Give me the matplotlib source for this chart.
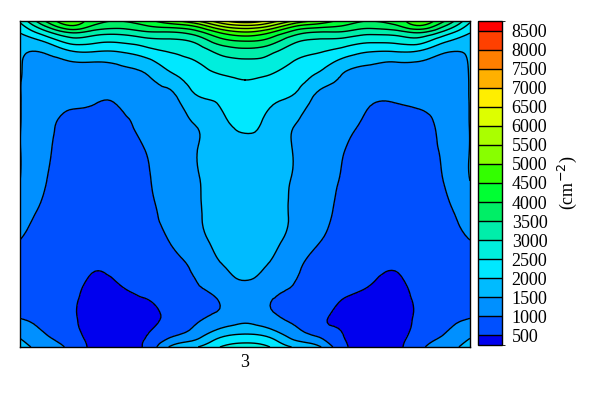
import numpy as np
import matplotlib
matplotlib.use("Agg")
import matplotlib.pyplot as plt
import matplotlib.tri as mtri
from matplotlib.colors import ListedColormap, BoundaryNorm
from matplotlib.cm import ScalarMappable

plt.rcParams['font.family'] = ['Liberation Serif', 'DejaVu Serif']

# grid positions (x across, depth from top edge down)
x_pos = [0, 25, 50, 75, 100, 125, 150, 175, 200, 225,
         250, 275, 300, 325, 350, 375, 400, 425, 450]
y_pos = [0, 5, 11, 19, 29, 41, 59, 79, 104, 129,
         159, 189, 219, 244, 269, 294, 314, 326]

# field values (cm^-2), one row per depth
density = [
    [2600, 4000, 4800, 4200, 4000, 4300, 4800, 5400, 6300, 6800, 6300, 5400, 4800, 4300, 4000, 4200, 4800, 4000, 2600],
    [2300, 3500, 4450, 3900, 3700, 3950, 4200, 4550, 5500, 5900, 5500, 4550, 4200, 3950, 3700, 3900, 4450, 3500, 2300],
    [2050, 2850, 3600, 3300, 3200, 3450, 3500, 3800, 4600, 5000, 4600, 3800, 3500, 3450, 3200, 3300, 3600, 2850, 2050],
    [1700, 2150, 2800, 2700, 2650, 2850, 2950, 3150, 3850, 4100, 3850, 3150, 2950, 2850, 2650, 2700, 2800, 2150, 1700],
    [1560, 1600, 2050, 2100, 2100, 2350, 2570, 2750, 3200, 3400, 3200, 2750, 2570, 2350, 2100, 2100, 2050, 1600, 1560],
    [1530, 1350, 1480, 1500, 1580, 1800, 2250, 2470, 2800, 2900, 2800, 2470, 2250, 1800, 1580, 1500, 1480, 1350, 1530],
    [1520, 1250, 1250, 1250, 1300, 1420, 1760, 2200, 2380, 2500, 2380, 2200, 1760, 1420, 1300, 1250, 1250, 1250, 1520],
    [1515, 1200, 1080, 1030, 1080, 1330, 1330, 1880, 2060, 2320, 2060, 1880, 1330, 1330, 1080, 1030, 1080, 1200, 1515],
    [1510, 1150, 900, 900, 850, 1200, 1320, 1500, 1850, 2090, 1850, 1500, 1320, 1200, 850, 900, 900, 1150, 1510],
    [1510, 1100, 830, 850, 780, 1000, 1300, 1470, 1790, 1900, 1790, 1470, 1300, 1000, 780, 850, 830, 1100, 1510],
    [1505, 1030, 800, 800, 750, 900, 1280, 1460, 1720, 1800, 1720, 1460, 1280, 900, 750, 800, 800, 1030, 1505],
    [1300, 900, 770, 760, 720, 830, 1200, 1440, 1660, 1750, 1660, 1440, 1200, 830, 720, 760, 770, 900, 1300],
    [1000, 820, 720, 700, 680, 780, 1020, 1330, 1620, 1680, 1620, 1330, 1020, 780, 680, 700, 720, 820, 1000],
    [900, 800, 680, 540, 600, 700, 850, 1100, 1470, 1570, 1470, 1100, 850, 700, 600, 540, 680, 800, 900],
    [880, 800, 640, 400, 470, 560, 750, 950, 1150, 1400, 1150, 950, 750, 560, 470, 400, 640, 800, 880],
    [950, 860, 600, 330, 380, 420, 620, 930, 1060, 1300, 1060, 930, 620, 420, 380, 330, 600, 860, 950],
    [1400, 1020, 720, 340, 400, 480, 880, 1250, 1850, 2050, 1850, 1250, 880, 480, 400, 340, 720, 1020, 1400],
    [1750, 1250, 900, 380, 450, 560, 1550, 1950, 2500, 2750, 2500, 1950, 1550, 560, 450, 380, 900, 1250, 1750],
]

levels = [0, 500, 1000, 1500, 2000, 2500, 3000, 3500, 4000, 4500,
          5000, 5500, 6000, 6500, 7000, 7500, 8000, 8500, 9000]
tick_values = levels[1:-1]
tick_label = '3'

colors = ['#0000EE', '#0050FF', '#0090FF', '#00BBFF', '#00E8FF', '#00EEDD',
          '#00EEAA', '#00EE66', '#00FF33', '#33FF00', '#88FF00', '#AAFF00',
          '#DDFF00', '#FFEE00', '#FFB000', '#FF7F00', '#FF4000', '#FF0000']

X, Y = np.meshgrid(x_pos, y_pos)
Z = np.array(density, dtype=float)

# smooth contours: refine the triangulated grid with matplotlib's refiner
triang = mtri.Triangulation(X.ravel(), Y.ravel())
refiner = mtri.UniformTriRefiner(triang)
tri_fine, z_fine = refiner.refine_field(Z.ravel(), subdiv=3)

fig = plt.figure(figsize=(6.0, 3.94), dpi=100)
ax = fig.add_axes([0.0333, 0.1193, 0.75, 0.8274])
cax = fig.add_axes([0.7967, 0.1244, 0.04, 0.8223])

ax.tricontourf(tri_fine, z_fine, levels=levels, colors=colors, extend='both')
ax.tricontour(tri_fine, z_fine, levels=levels[1:-1], colors='black', linewidths=1.0)
ax.set_xlim(x_pos[0], x_pos[-1])
ax.set_ylim(y_pos[-1], y_pos[0])
ax.set_yticks([])
ax.set_xticks([x_pos[len(x_pos) // 2]])
ax.set_xticklabels([tick_label], fontsize=13)
ax.tick_params(axis='x', length=0, pad=5)
for s in ax.spines.values():
    s.set_linewidth(1.0)

# colorbar: half-size end boxes, labels on the box edges
cb_bounds = [250] + tick_values + [8750]
cmap = ListedColormap(colors)
norm = BoundaryNorm(cb_bounds, len(colors))
cbar = fig.colorbar(ScalarMappable(norm=norm, cmap=cmap), cax=cax,
                    ticks=tick_values, spacing='proportional', drawedges=True)
cbar.ax.tick_params(length=0, labelsize=13, pad=7)
cbar.outline.set_linewidth(1.0)
cbar.dividers.set_linewidth(1.0)
cbar.set_label('(cm$^{-2}$)', fontsize=13, labelpad=6)

fig.savefig('out.png', dpi=100)
